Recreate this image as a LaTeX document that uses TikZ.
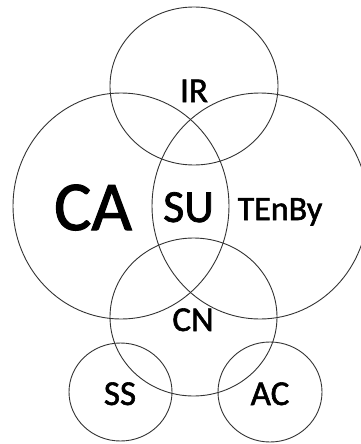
\documentclass[tikz,border=0pt]{standalone}
\usepackage{fontspec}
\setmainfont{Carlito}
\newfontfamily\lblfont{Carlito}[FakeBold=1.6]
\begin{document}
\begin{tikzpicture}[x=1pt,y=-1pt,
  ring/.style={draw=black!80,line width=0.9pt},
  lbl/.style={anchor=base,inner sep=0pt,text=black,font=\lblfont}]
\useasboundingbox (0,0) rectangle (361,444);
\clip (0,0) rectangle (361,444);
% circles
\draw[ring] (194,86) ellipse [x radius=84pt, y radius=79pt];
\draw[ring] (121,206) ellipse [x radius=108pt, y radius=113pt];
\draw[ring] (260,206) ellipse [x radius=108pt, y radius=113pt];
\draw[ring] (193.5,317) ellipse [x radius=83.5pt, y radius=79pt];
\draw[ring] (120.5,392) ellipse [x radius=51.5pt, y radius=49pt];
\draw[ring] (270,392) ellipse [x radius=52pt, y radius=50pt];
% labels
\node[lbl] (ir) at (194,102) {\fontsize{35}{35}\selectfont IR};
\node[lbl] (ca) at (93,230) {\fontsize{70}{70}\selectfont CA};
\node[lbl] (su) at (188.5,222) {\fontsize{46}{46}\selectfont SU};
\node[lbl] (tenby) at (280,220) {\fontsize{34}{34}\selectfont TEnBy};
\node[lbl] (cn) at (193,331) {\fontsize{35}{35}\selectfont CN};
\node[lbl] (ss) at (120,405) {\fontsize{35}{35}\selectfont SS};
\node[lbl] (ac) at (270,405) {\fontsize{35}{35}\selectfont AC};
\end{tikzpicture}
\end{document}
